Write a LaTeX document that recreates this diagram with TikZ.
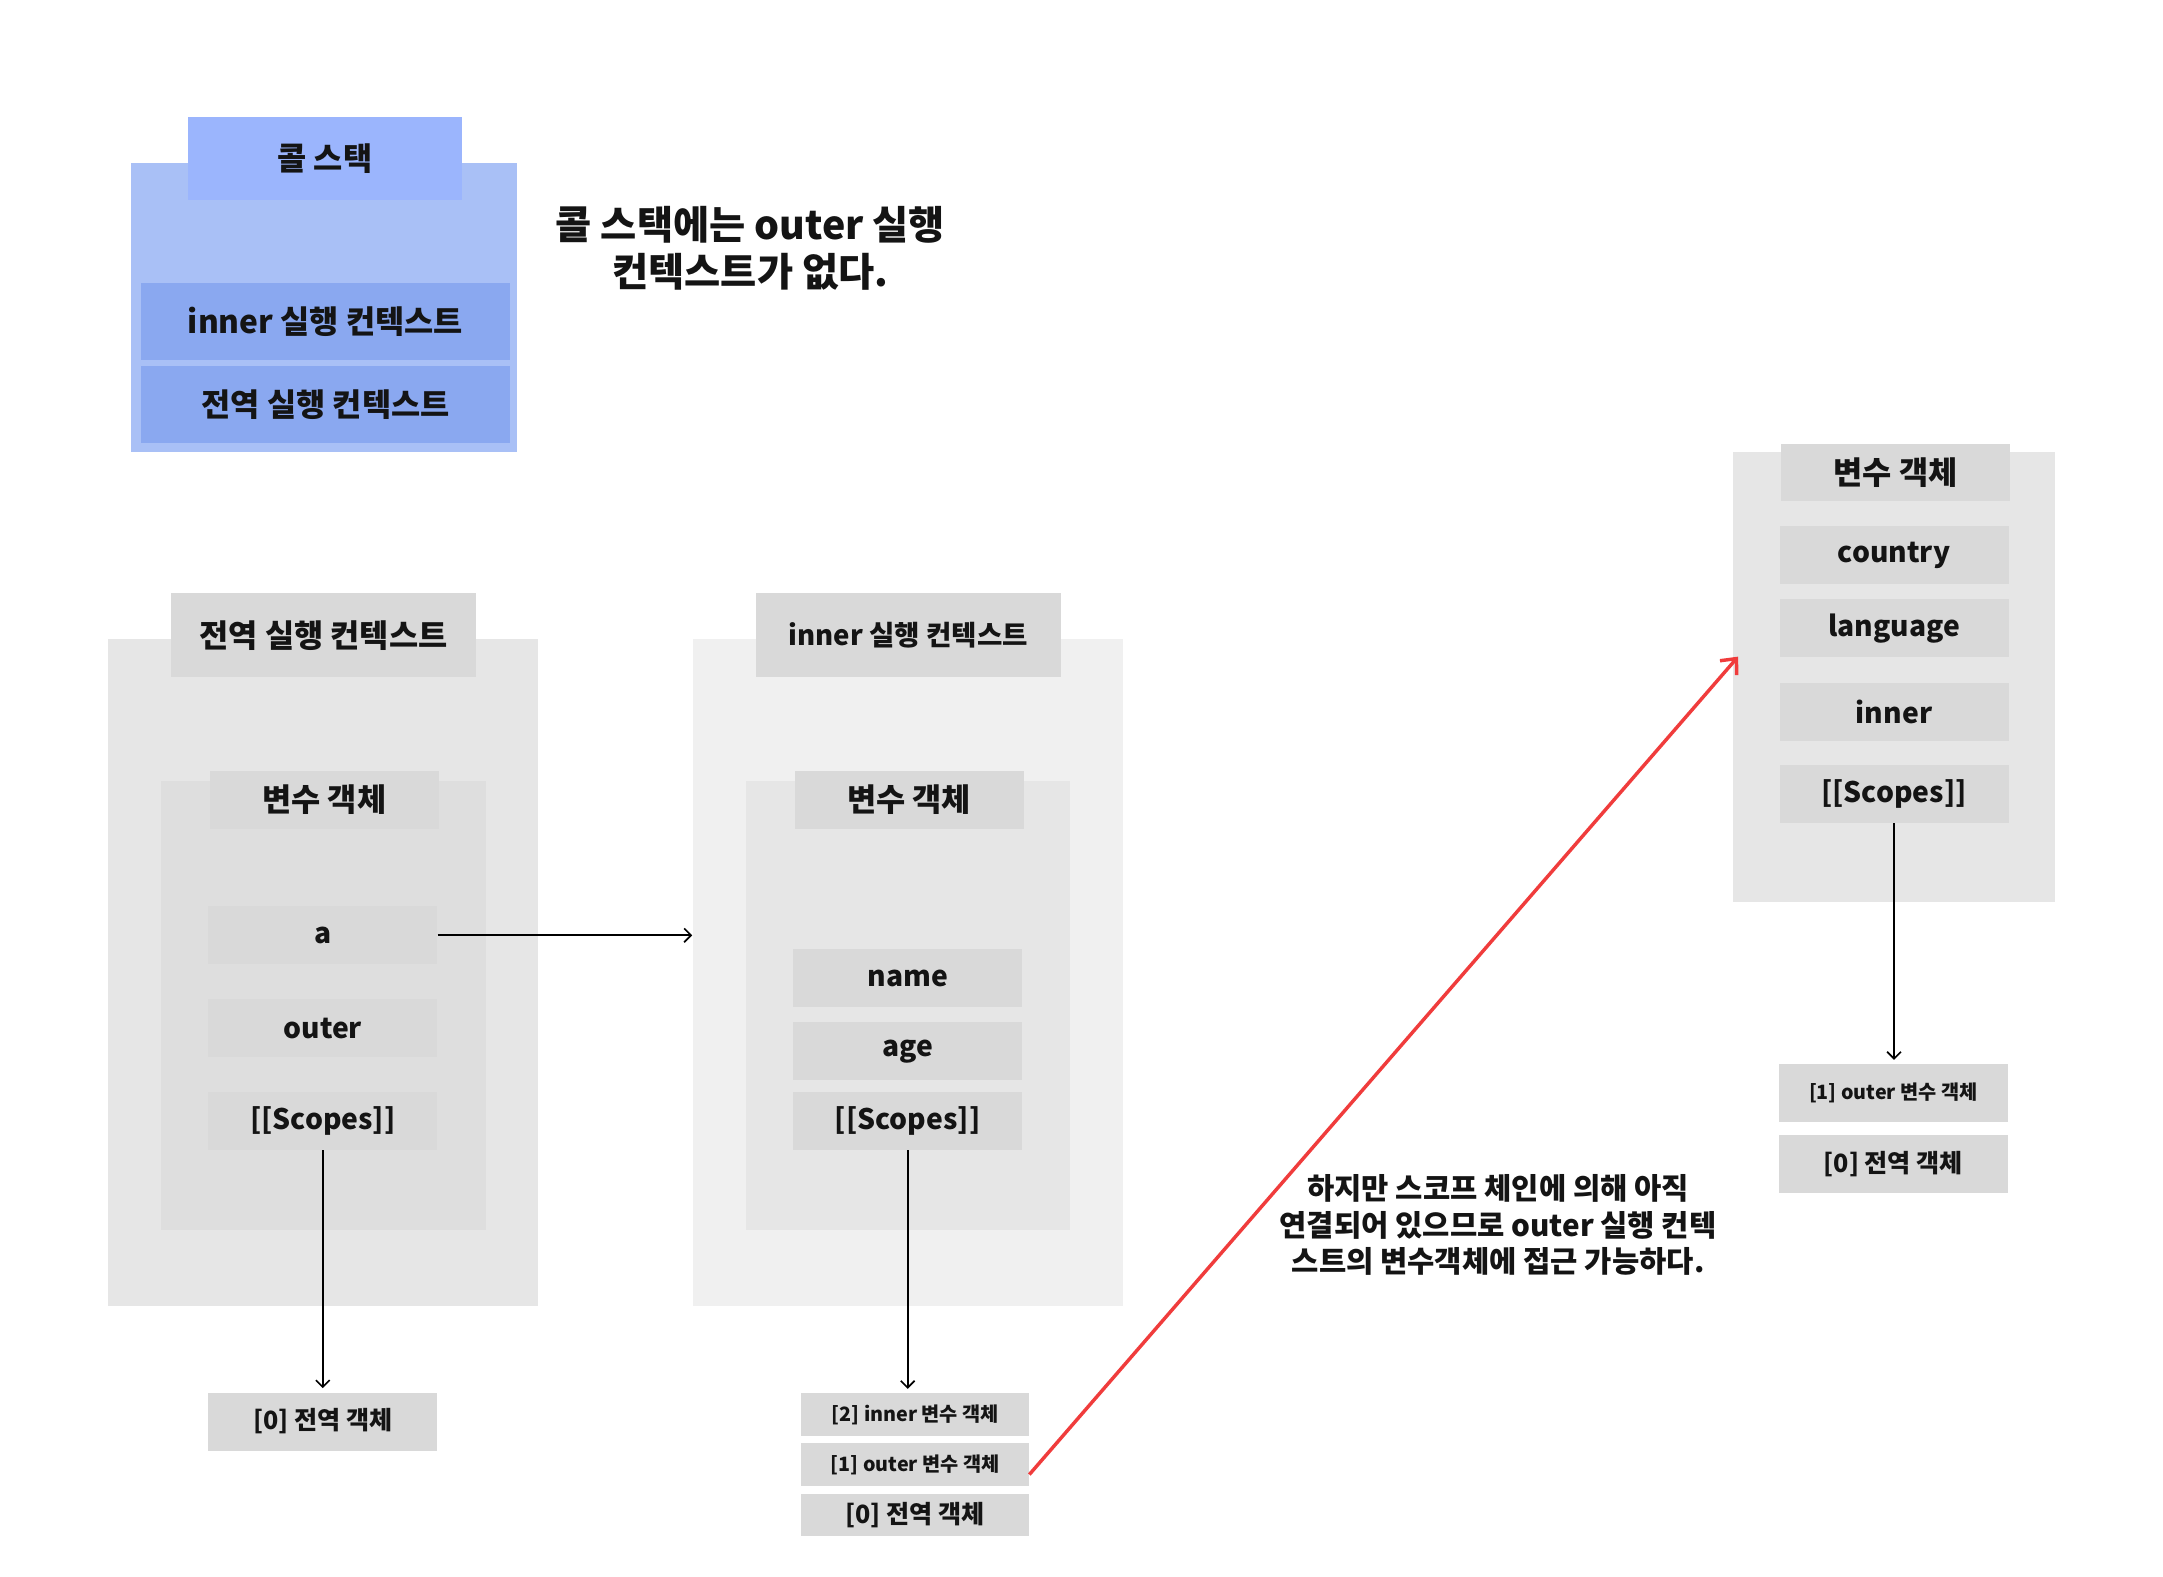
\documentclass[tikz,border=0pt]{standalone}
\usepackage{fontspec}
\setmainfont{Noto Sans CJK KR}
\usetikzlibrary{positioning,arrows.meta}
\definecolor{stackbg}{HTML}{A9C0F6}
\definecolor{stacktab}{HTML}{9BB5FD}
\definecolor{stackrow}{HTML}{8AA8F0}
\definecolor{ecdark}{HTML}{E6E6E6}
\definecolor{eclight}{HTML}{F0F0F0}
\definecolor{vobg}{HTML}{DEDEDE}
\definecolor{cellgray}{HTML}{D9D9D9}
\definecolor{myred}{HTML}{F03C3C}
\colorlet{ink}{black!92}

\begin{document}
\begin{tikzpicture}[x=1pt,y=-1pt,
    panel/.style 2 args={rectangle,inner sep=0pt,minimum width=#1,minimum height=#2},
    title/.style={text=ink,font=\bfseries\fontsize{23}{27}\selectfont},
    cellbox/.style={panel={166pt}{42pt},fill=cellgray,text=ink,font=\bfseries\fontsize{20.5}{24}\selectfont},
    chainbox/.style={panel={165pt}{31pt},fill=cellgray,text=ink,font=\bfseries\fontsize{14.3}{17}\selectfont},
    note/.style={align=center,text=ink,font=\bfseries\fontsize{28.5}{34}\selectfont},
    link/.style={line width=1.2pt,-{Straight Barb[length=5pt,width=10pt]}},
    redlink/.style={line width=2.5pt,myred,-{Straight Barb[length=9pt,width=16pt]}}]
    \useasboundingbox[fill=white] (0,0) rectangle (1568,1143);
    % call stack
    \node[panel={280pt}{210pt},fill=stackbg] (cs) at (235,223) {};
    \node[panel={199pt}{60pt},fill=stacktab,title] (cstab) at (235.5,115) {콜 스택};
    \node[panel={268pt}{56pt},fill=stackrow,title] (csinner) at (236,233) {inner 실행 컨텍스트};
    \node[panel={268pt}{56pt},fill=stackrow,title,below=4pt of csinner] (csglobal) {전역 실행 컨텍스트};
    \node[note] (nostack) at (544,180) {콜 스택에는 outer 실행\\컨텍스트가 없다.};
    % global execution context
    \node[panel={312pt}{484pt},fill=ecdark] (gec) at (234,705) {};
    \node[panel={221pt}{61pt},fill=cellgray,title] (gectab) at (234.5,460.5) {전역 실행 컨텍스트};
    \node[panel={235pt}{326pt},fill=vobg] (gvo) at (234.5,729) {};
    \node[cellbox,title] (gvotab) at (235,580) {변수 객체};
    \foreach \N/\T/\Y in {ga/a/678,gouter/outer/745.5,gscopes/{[[Scopes]]}/812.5}
    {\node[cellbox] (\N) at (234,\Y) {\T};}
    \node[cellbox,font=\bfseries\fontsize{18.2}{21}\selectfont] (gchain0) at (234,1030.5) {[0] 전역 객체};
    % inner execution context
    \node[panel={312pt}{484pt},fill=eclight] (iec) at (658,705) {};
    \node[panel={221pt}{61pt},fill=cellgray,title,font=\bfseries\fontsize{20}{24}\selectfont] (iectab) at (658.5,460.5) {inner 실행 컨텍스트};
    \node[panel={235pt}{326pt},fill=ecdark] (ivo) at (658.5,729) {};
    \node[cellbox,title] (ivotab) at (659,580) {변수 객체};
    \foreach \N/\T/\Y in {iname/name/709,iage/age/762,iscopes/{[[Scopes]]}/812.5}
    {\node[cellbox] (\N) at (658,\Y) {\T};}
    \node[chainbox] (ichain2) at (663.5,1025.5) {[2] inner 변수 객체};
    \node[chainbox,below=5pt of ichain2] (ichain1) {[1] outer 변수 객체};
    \node[chainbox,below=5pt of ichain1,font=\bfseries\fontsize{18.2}{21}\selectfont] (ichain0) {[0] 전역 객체};
    % outer variable object
    \node[panel={234pt}{326pt},fill=ecdark] (ovo) at (1373,491) {};
    \node[cellbox,title] (ovotab) at (1374,342.5) {변수 객체};
    \foreach \N/\T/\Y in {ocountry/country/402.5,olanguage/language/455.5,oinner/inner/516,oscopes/{[[Scopes]]}/575.5}
    {\node[cellbox] (\N) at (1373,\Y) {\T};}
    \node[cellbox,font=\bfseries\fontsize{14.3}{17}\selectfont] (ochain1) at (1372.5,792.5) {[1] outer 변수 객체};
    \node[cellbox,below=9pt of ochain1,font=\bfseries\fontsize{18.2}{21}\selectfont] (ochain0) {[0] 전역 객체};
    \node[note,font=\bfseries\fontsize{21.5}{26.5}\selectfont] (reach) at (1086,888)
    {하지만 스코프 체인에 의해 아직\\연결되어 있으므로 outer 실행 컨텍\\스트의 변수객체에 접근 가능하다.};
    % links
    \draw[link] (ga.east) -- (iec.west |- ga.east);
    \draw[link] (gscopes.south) -- ([yshift=3pt]gscopes.south |- gchain0.north);
    \draw[link] (iscopes.south) -- ([yshift=3pt]iscopes.south |- ichain2.north);
    \draw[link] (oscopes.south) -- ([yshift=3pt]oscopes.south |- ochain1.north);
    \coordinate (reachtip) at (1260,476);
    \draw[redlink] ([yshift=-7pt]ichain1.east) -- (reachtip);
\end{tikzpicture}
\end{document}
